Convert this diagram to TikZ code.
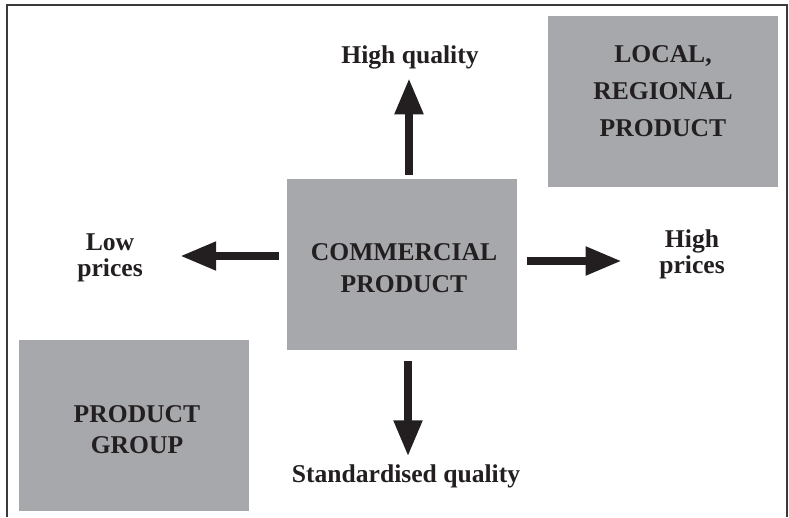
\documentclass[tikz,border=0pt]{standalone}
\usepackage{fontspec}
\setmainfont{Liberation Serif}
\usetikzlibrary{arrows.meta,calc}
\definecolor{boxgray}{HTML}{A7A8AB}
\definecolor{ink}{HTML}{231F20}
\definecolor{framec}{HTML}{3A3A3A}
\begin{document}
\begin{tikzpicture}[x=1pt,y=-1pt,
  box/.style={fill=boxgray, draw=none, minimum width=230pt, minimum height=171pt, inner sep=0pt},
  txt/.style={text=ink, font=\bfseries\fontsize{25.6}{#1}\selectfont, inner sep=0pt, align=center},
  txt/.default=32,
  bigarrow/.style={draw=ink, line width=8pt, -{Triangle[length=36pt,width=27pt]}},
  frameline/.style={draw=framec, line width=2pt, line join=miter}]
\useasboundingbox (0,0) rectangle (789,517);
\draw[frameline] (7,517) -- (7,5) -- (787,5) -- (787,517);
% boxes
\node[box] (comm) at (402,264.5) {};
\node[txt=32] (commt) at (404,268.5) {COMMERCIAL\\PRODUCT};
\node[box] (loc) at (663,101.5) {};
\node[txt=37] (loct) at (663,91.5) {LOCAL,\\REGIONAL\\PRODUCT};
\node[box] (pg) at (134,425.5) {};
\node[txt=31] (pgt) at (137,430) {PRODUCT\\GROUP};
% labels
\node[txt=26] (lp) at (110,258) {Low\\prices};
\node[txt=26] (hp) at (692,254) {High\\prices};
\node[txt, anchor=base] (hq) at (410,63) {High quality};
\node[txt, anchor=base] (sq) at (406,482) {Standardised quality};
% arrows
\draw[bigarrow] ($(comm.north)+(7,-4)$) -- ($(hq.south)+(-1,9.4)$);
\draw[bigarrow] ($(comm.south)+(6,11)$) -- ($(sq.north)+(2,-7.7)$);
\draw[bigarrow] ($(comm.west)+(-8,-8.5)$) -- ($(lp.east)+(37.3,-2)$);
\draw[bigarrow] ($(comm.east)+(10,-3.5)$) -- ($(hp.west)+(-37.5,7)$);
\end{tikzpicture}
\end{document}
